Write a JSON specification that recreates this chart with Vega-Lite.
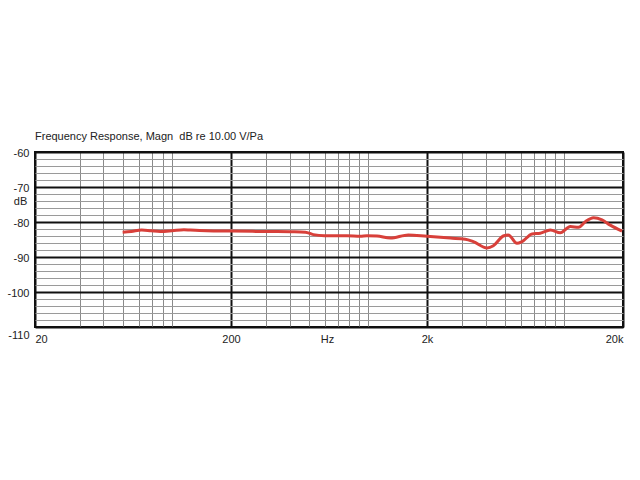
{
  "$schema": "https://vega.github.io/schema/vega-lite/v6.json",
  "description": "Frequency response, magnitude in dB re 10.00 V/Pa",
  "autosize": {"type": "none"},
  "width": 588,
  "height": 175,
  "padding": {"left": 35, "top": 152, "right": 17, "bottom": 153},
  "background": "white",
  "title": {
    "text": "Frequency Response, Magn\u00a0 dB re 10.00 V/Pa",
    "anchor": "start",
    "frame": "group",
    "font": "Liberation Sans",
    "fontSize": 11,
    "fontWeight": "normal",
    "color": "#222",
    "offset": 5
  },
  "config": {
    "view": {"stroke": "#111", "strokeWidth": 2},
    "axis": {
      "domain": false,
      "ticks": false,
      "labelFont": "Liberation Sans",
      "labelFontSize": 11,
      "labelColor": "#222",
      "titleFont": "Liberation Sans",
      "titleFontSize": 11,
      "titleFontWeight": "normal",
      "titleColor": "#222"
    }
  },
  "data": {
    "values": [
      {"freq": 56, "db": -82.9},
      {"freq": 62, "db": -82.7},
      {"freq": 70, "db": -82.3},
      {"freq": 78, "db": -82.5},
      {"freq": 87, "db": -82.7},
      {"freq": 100, "db": -82.5},
      {"freq": 115, "db": -82.2},
      {"freq": 124, "db": -82.3},
      {"freq": 150, "db": -82.5},
      {"freq": 200, "db": -82.6},
      {"freq": 282, "db": -82.7},
      {"freq": 402, "db": -82.8},
      {"freq": 479, "db": -82.9},
      {"freq": 526, "db": -83.6},
      {"freq": 600, "db": -83.9},
      {"freq": 782, "db": -83.9},
      {"freq": 914, "db": -84.1},
      {"freq": 988, "db": -83.9},
      {"freq": 1112, "db": -84.0},
      {"freq": 1300, "db": -84.6},
      {"freq": 1606, "db": -83.7},
      {"freq": 2000, "db": -84.1},
      {"freq": 2630, "db": -84.6},
      {"freq": 3136, "db": -84.9},
      {"freq": 3446, "db": -85.6},
      {"freq": 4048, "db": -87.4},
      {"freq": 4360, "db": -86.8},
      {"freq": 4900, "db": -84.0},
      {"freq": 5200, "db": -83.7},
      {"freq": 5756, "db": -86.1},
      {"freq": 6108, "db": -85.6},
      {"freq": 6868, "db": -83.4},
      {"freq": 7568, "db": -83.2},
      {"freq": 8514, "db": -82.3},
      {"freq": 9572, "db": -83.1},
      {"freq": 10766, "db": -81.3},
      {"freq": 11860, "db": -81.5},
      {"freq": 12854, "db": -79.9},
      {"freq": 14158, "db": -78.8},
      {"freq": 15632, "db": -79.4},
      {"freq": 17220, "db": -80.9},
      {"freq": 19770, "db": -82.6}
    ]
  },
  "layer": [
    {
      "mark": {"type": "line", "strokeOpacity": 0},
      "encoding": {
        "x": {
          "field": "freq", "type": "quantitative",
          "scale": {"type": "log", "domain": [20, 20000], "nice": false},
          "axis": {
            "orient": "bottom", "labels": false, "title": null, "zindex": 0,
            "values": [34, 44.5, 56, 67.5, 79, 89.5, 100, 300, 400, 500, 600, 700, 800, 900, 1000, 3000, 4000, 5000, 6000, 7000, 8000, 9000, 10000],
            "grid": true, "gridColor": "#8a8a8a", "gridWidth": 1
          }
        },
        "y": {
          "field": "db", "type": "quantitative",
          "scale": {"domain": [-110, -60], "nice": false, "zero": false},
          "axis": {
            "orient": "left", "labels": false, "title": null, "zindex": 0,
            "values": [-108, -106, -104, -102, -98, -96, -94, -92, -88, -86, -84, -82, -78, -76, -74, -72, -68, -66, -64, -62],
            "grid": true, "gridColor": "#9a9a9a", "gridWidth": 1
          }
        }
      }
    },
    {
      "mark": {"type": "line", "strokeOpacity": 0},
      "encoding": {
        "x": {
          "field": "freq", "type": "quantitative",
          "axis": {
            "orient": "bottom", "zindex": 0,
            "values": [20, 200, 2000, 20000],
            "labelExpr": "datum.value >= 1000 ? (datum.value / 1000) + 'k' : '' + datum.value",
            "labelFlush": true, "labelPadding": 6,
            "grid": true, "gridColor": "#111", "gridWidth": 2,
            "title": "Hz", "titleX": 292, "titleY": 12, "titleBaseline": "middle", "titleAlign": "center"
          }
        },
        "y": {
          "field": "db", "type": "quantitative",
          "axis": {
            "orient": "left", "zindex": 0,
            "values": [-110, -100, -90, -80, -70, -60],
            "labelExpr": "'' + datum.value",
            "labelOffset": {"condition": {"test": "datum.value == -110", "value": 8}, "value": 1},
            "labelPadding": 6,
            "grid": true, "gridColor": "#111", "gridWidth": 2,
            "title": "dB", "titleAngle": 0, "titleX": -15, "titleY": 49, "titleAlign": "center", "titleBaseline": "middle"
          }
        }
      }
    },
    {
      "mark": {"type": "line", "color": "#d8403a", "strokeWidth": 3, "interpolate": "monotone", "zindex": 2},
      "encoding": {
        "x": {"field": "freq", "type": "quantitative", "axis": null},
        "y": {"field": "db", "type": "quantitative", "axis": null}
      }
    }
  ],
  "resolve": {"axis": {"x": "independent", "y": "independent"}}
}
